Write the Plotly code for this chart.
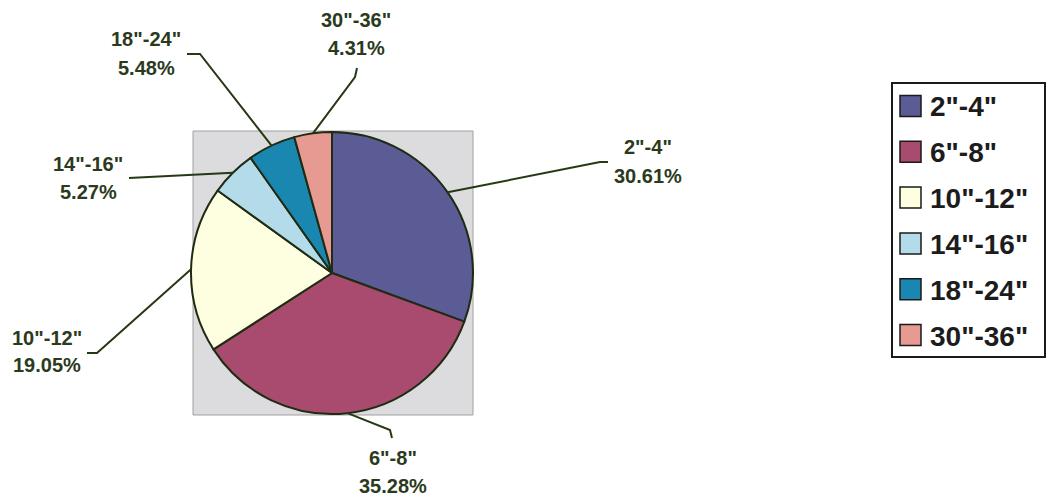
import math
import plotly.graph_objects as go

# Pipe diameter classes and their share of the total
labels = ['2"-4"', '6"-8"', '10"-12"', '14"-16"', '18"-24"', '30"-36"']
shares = [30.61, 35.28, 19.05, 5.27, 5.48, 4.31]
colors = ["#5b5b95", "#a94b6e", "#fefee0", "#b4dbe9", "#1a87b1", "#e79a92"]

W, H = 1053, 500
FONT = "Arial, Liberation Sans, sans-serif"
LABEL_COLOR = "#2b3a1c"
LEADER_COLOR = "#263814"

# pie placement in pixels (centre and radius)
CX, CY, R = 332, 273, 141

# label text placement (centre x, name line y, percent line y) and leader bends
label_pos = [(648, 147, 176), (393, 458, 486), (47, 338, 365),
             (88, 164, 192), (146, 39, 68), (356, 20, 48)]
leader_bends = [[(600, 162), (608, 162)],
                [(390, 430), (392, 438)],
                [(97, 353), (87, 353)],
                [(129, 178)],
                [(200, 54), (187, 54)],
                [(355, 77), (357, 68)]]


def px(x):
    return x / W


def py(y):
    return 1 - y / H


fig = go.Figure()
fig.add_trace(go.Pie(
    labels=labels, values=shares, sort=False, direction="clockwise", rotation=0,
    marker=dict(colors=colors, line=dict(color="#1f2b12", width=2)),
    textinfo="none", hoverinfo="label+percent", showlegend=False,
    domain=dict(x=[px(CX - R), px(CX + R)], y=[py(CY + R), py(CY - R)]),
))

shapes = [dict(type="rect", xref="paper", yref="paper", layer="below",
               x0=px(193), x1=px(473), y0=py(415), y1=py(131),
               fillcolor="#dcdcde", line=dict(color="#a0a0a0", width=1))]
annotations = []

# leader lines from each slice's outer mid-point to its label
total = sum(shares)
cum = 0.0
for i, (lab, v) in enumerate(zip(labels, shares)):
    mid = (cum + v / 2) / total * 2 * math.pi
    cum += v
    ex, ey = CX + R * math.sin(mid), CY - R * math.cos(mid)
    pts = [(ex, ey)] + leader_bends[i]
    path = "M " + " L ".join(f"{px(x):.5f},{py(y):.5f}" for x, y in pts)
    shapes.append(dict(type="path", xref="paper", yref="paper", path=path,
                       line=dict(color=LEADER_COLOR, width=2)))
    lx, ly1, ly2 = label_pos[i]
    for txt, yy in ((lab, ly1), (f"{v:.2f}%", ly2)):
        annotations.append(dict(
            x=px(lx), y=py(yy), xref="paper", yref="paper", text=txt,
            showarrow=False, xanchor="center", yanchor="middle",
            font=dict(family=FONT, size=20, color=LABEL_COLOR, weight="bold")))

# legend box
shapes.append(dict(type="rect", xref="paper", yref="paper",
                   x0=px(892), x1=px(1045), y0=py(357), y1=py(83),
                   fillcolor="white", line=dict(color="#1a1a1a", width=2)))
for i, (lab, c) in enumerate(zip(labels, colors)):
    yc = 106 + i * 45.8
    shapes.append(dict(type="rect", xref="paper", yref="paper",
                       x0=px(900), x1=px(921), y0=py(yc + 10.5), y1=py(yc - 10.5),
                       fillcolor=c, line=dict(color="#1a1a1a", width=1.5)))
    annotations.append(dict(
        x=px(928), y=py(yc + 1), xref="paper", yref="paper", text=lab,
        showarrow=False, xanchor="left", yanchor="middle",
        font=dict(family=FONT, size=28, color="#1c1c1c", weight="bold")))

fig.update_layout(
    width=W, height=H, margin=dict(l=0, r=0, t=0, b=0),
    paper_bgcolor="white", plot_bgcolor="white",
    shapes=shapes, annotations=annotations,
)

fig.write_html("out.html")
